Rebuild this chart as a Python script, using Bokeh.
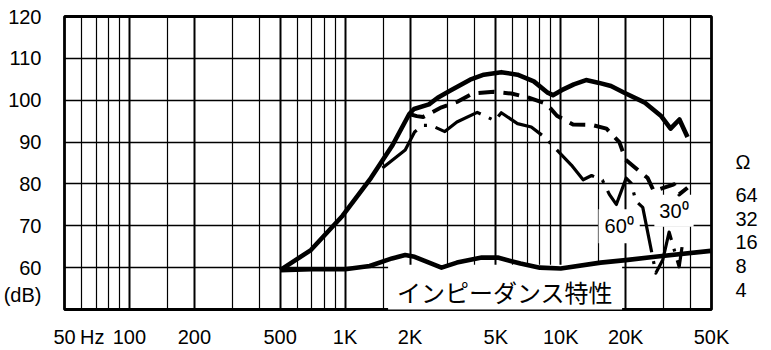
from bokeh.plotting import figure
from bokeh.models import FixedTicker, Range1d, LogScale, LogAxis, Label
from bokeh.embed import file_html
from bokeh.resources import INLINE

# ---- data ----
freq_0 = [500, 694, 974, 1317, 1661, 1984, 2087, 2449, 2688, 3050, 3800, 4400, 5300, 6300,
          7500, 8700, 9200, 10100, 11500, 13100, 14900, 17100, 19700, 24400, 29100, 32300,
          35500, 38700]
db_0 = [59.4, 64.2, 72.4, 81.4, 89.3, 96.7, 97.9, 99.0, 100.6, 102.2, 104.9, 106.1, 106.7,
        106.1, 104.5, 101.8, 101.2, 102.4, 103.8, 104.8, 104.2, 103.4, 101.8, 99.5, 96.3,
        93.2, 95.4, 91.2]

freq_30 = [1984, 2150, 2300, 2800, 3300, 3900, 4900, 5900, 7100, 8600, 9600, 11400, 13900,
           16300, 18700, 20000, 22000, 25300, 27000, 33500, 35400, 38700]
db_30 = [96.7, 96.2, 96.0, 98.3, 99.6, 101.6, 102.0, 101.6, 100.6, 99.1, 96.3, 94.2, 94.1,
         93.2, 90.0, 85.8, 84.0, 81.4, 78.3, 79.9, 77.5, 79.1]

freq_60 = [1490, 1900, 2100, 2300, 2500, 2900, 3300, 4100, 4950, 5300, 6300, 7300, 8400,
           11200, 12700, 13900, 15600, 16800, 18100, 20100, 21200, 22300, 24000, 27600,
           29700, 31800, 35400, 36500]
db_60 = [83.8, 88.1, 92.4, 94.0, 94.0, 92.5, 94.8, 97.1, 95.1, 97.0, 94.4, 93.6, 91.2, 84.5,
         81.0, 82.0, 80.9, 77.5, 75.1, 81.4, 80.2, 75.9, 74.4, 58.7, 61.8, 68.5, 60.2, 64.9]

freq_z = [500, 700, 1000, 1300, 1650, 1900, 2100, 2500, 2800, 3300, 4300, 5100, 6500, 8000,
          10000, 15300, 20000, 27400, 49600]
db_z = [59.4, 59.6, 59.6, 60.4, 62.2, 63.0, 62.6, 61.0, 60.0, 61.2, 62.4, 62.4, 61.0, 60.0,
        59.8, 61.2, 61.8, 62.6, 64.0]

x_ticks = [50, 67.2, 100, 200, 500, 1000, 2000, 5000, 10000, 20000, 50000]
x_tick_labels = ["50", "Hz", "100", "200", "500", "1K", "2K", "5K", "10K", "20K", "50K"]
x_major_grid = [100, 200, 500, 1000, 2000, 5000, 10000, 20000]
x_minor_grid = [60, 70, 80, 90, 150, 300, 400, 600, 700, 800, 900, 1500, 3000, 4000,
                6000, 7000, 8000, 9000, 15000, 30000, 40000]
y_ticks = [53.4, 60, 70, 80, 90, 100, 110, 120]
y_tick_labels = ["(dB)", "60", "70", "80", "90", "100", "110", "120"]
y_grid = [60, 70, 80, 90, 100, 110]
ohm_ticks = [4, 8, 16, 32, 64, 169]
ohm_labels = ["4", "8", "16", "32", "64", "Ω"]

FONT = "Liberation Sans"

p = figure(width=771, height=350, x_axis_type="log",
           x_range=Range1d(50, 50000), y_range=Range1d(50, 120),
           output_backend="svg", toolbar_location=None,
           min_border_left=60, min_border_right=60, min_border_top=16, min_border_bottom=37)
p.background_fill_color = "white"
p.border_fill_color = "white"
p.outline_line_color = "black"
p.outline_line_width = 2.8

# grid
p.xgrid.ticker = FixedTicker(ticks=x_major_grid, minor_ticks=x_minor_grid)
p.xgrid.grid_line_color = "black"
p.xgrid.grid_line_width = 2
p.xgrid.minor_grid_line_color = "black"
p.xgrid.minor_grid_line_width = 1.2
p.ygrid.ticker = FixedTicker(ticks=y_grid)
p.ygrid.grid_line_color = "black"
p.ygrid.grid_line_width = 1.3


def style_axis(ax, size, standoff):
    ax.axis_line_color = None
    ax.major_tick_line_color = None
    ax.minor_tick_line_color = None
    ax.major_label_standoff = standoff
    ax.major_label_text_font = FONT
    ax.major_label_text_font_size = size
    ax.major_label_text_color = "black"


# x axis
xa = p.xaxis[0]
xa.ticker = FixedTicker(ticks=x_ticks)
xa.major_label_overrides = {t: l for t, l in zip(x_ticks, x_tick_labels)}
style_axis(xa, "20px", 10)

# y axis
ya = p.yaxis[0]
ya.ticker = FixedTicker(ticks=y_ticks)
ya.major_label_overrides = {t: l for t, l in zip(y_ticks, y_tick_labels)}
style_axis(ya, "20px", 17)

# right impedance axis
p.extra_y_ranges = {"ohm": Range1d(2.265, 11602)}
p.extra_y_scales = {"ohm": LogScale()}
ra = LogAxis(y_range_name="ohm", ticker=FixedTicker(ticks=ohm_ticks))
ra.major_label_overrides = {t: l for t, l in zip(ohm_ticks, ohm_labels)}
style_axis(ra, "20px", 18)
ra.major_label_text_align = "center"
p.add_layout(ra, "right")


def lab(x, y, text, font, size, pad):
    p.add_layout(Label(x=x, y=y, text=text, text_font=font, text_font_size=size,
                       text_align="center", text_baseline="middle", text_color="black",
                       background_fill_color="white", padding=pad, level="underlay"))


lab(5520, 54.35, "インピーダンス特性", "Noto Sans CJK JP", "24px", 9)
lab(18650, 69.9, "60⁰", FONT, "20px", 6)
lab(33500, 73.6, "30⁰", FONT, "20px", 5)

# curves
p.line(freq_z, db_z, line_color="black", line_width=4.6, line_join="round")
p.line(freq_0, db_0, line_color="black", line_width=4.6, line_join="round")
p.line(freq_30, db_30, line_color="black", line_width=4, line_dash="16 9", line_join="round")
p.line(freq_60, db_60, line_color="black", line_width=3.2, line_dash="52 9 3 9",
       line_join="round")

open("out.html", "w").write(file_html(p, INLINE))
